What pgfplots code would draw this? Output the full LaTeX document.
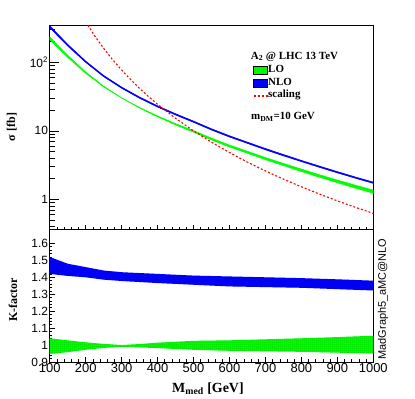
\documentclass[border=0pt]{standalone}
\usepackage{fontspec}
\setmainfont{Liberation Serif}
\setsansfont{Liberation Sans}
\usepackage{pgfplots}
\pgfplotsset{compat=1.18}
\usetikzlibrary{patterns.meta}

\definecolor{rgreen}{RGB}{0,255,0}
\definecolor{rblue}{RGB}{0,0,255}
\definecolor{rred}{RGB}{255,0,0}

\tikzdeclarepattern{
  name=rootgrid,
  type=uncolored,
  bottom left={(0bp,0bp)},
  top right={(2.2bp,2.2bp)},
  tile size={(2.2bp,2.2bp)},
  code={
    \draw[line width=0.35bp] (0bp,0.1bp) -- (2.2bp,0.1bp);
    \draw[line width=0.35bp] (0.1bp,0bp) -- (0.1bp,2.2bp);
  }
}

\pgfplotsset{
  rootaxis/.style={
    scale only axis,
    width=323.6bp,
    anchor=south west,
    xmin=100, xmax=1000,
    axis line style={line width=0.8bp},
    tick align=inside,
    xtick pos=bottom, ytick pos=left,
    xtick={100,200,...,1000},
    minor x tick num=4,
    tick style={line width=0.6bp, black},
    /pgf/number format/assume math mode=true,
    /pgf/number format/set thousands separator={},
    yticklabel style={font=\sffamily\fontsize{12}{12}\selectfont, inner sep=1.5bp},
    xticklabel style={font=\sffamily\fontsize{13}{13}\selectfont, inner sep=1.5bp},
    label style={font=\bfseries\fontsize{12}{12}\selectfont},
  }
}

\begin{document}
\begin{tikzpicture}
\path[use as bounding box] (0,0) rectangle (415bp,399bp);

% upper panel: cross sections
\begin{axis}[rootaxis,
  at={(49.7bp,170bp)}, height=204bp,
  ymode=log, ymin=0.37, ymax=350,
  ytick={1,10,100}, yticklabels={1,10,10\textsuperscript{2}},
  minor ytick={0.4,0.5,0.6,0.7,0.8,0.9,2,3,4,5,6,7,8,9,20,30,40,50,60,70,80,90,200,300},
  major tick length=9bp, minor tick length=5bp,
  xtick style={/pgfplots/major tick length=4bp, /pgfplots/minor tick length=2bp},
  xticklabels={},
  ylabel={σ [fb]},
  ylabel style={at={(axis description cs:-0.117,0.5)}, anchor=center},
  legend style={at={(rel axis cs:0.6286,0.809)}, anchor=north west,
    draw=none, fill=none, inner sep=0pt, outer sep=0pt,
    font=\bfseries\fontsize{11}{13}\selectfont, row sep=0pt,
    nodes={inner sep=0pt, text height=8.4bp, text depth=4.4bp},
    /tikz/every even column/.append style={column sep=3.5bp}},
  legend cell align=left,
]
% LO band
\addplot[forget plot, fill=rgreen, draw=rgreen, line width=0.5bp] coordinates {
  (100,234.2) (150,126.6) (200,72.4) (250,44.9) (300,30.4) (350,21.9) (400,16.5)
  (450,12.75) (500,10.08) (550,7.82) (600,6.20) (650,5.03) (700,4.08) (750,3.35)
  (800,2.77) (850,2.29) (900,1.916) (950,1.613) (1000,1.366)
  (1000,1.230) (950,1.461) (900,1.748) (850,2.105) (800,2.55) (750,3.11) (700,3.80)
  (650,4.71) (600,5.82) (550,7.37) (500,9.55) (450,12.21) (400,16.0) (350,21.5)
  (300,30.1) (250,43.8) (200,69.3) (150,118.0) (100,213.3)
};
% NLO band
\addplot[forget plot, fill=rblue, draw=rblue, line width=0.6bp] coordinates {
  (100,342.3) (150,182.6) (200,104.1) (250,64.2) (300,43.5) (350,31.1) (400,23.15)
  (450,17.75) (500,13.87) (550,10.71) (600,8.47) (650,6.83) (700,5.52) (750,4.51)
  (800,3.70) (850,3.06) (900,2.54) (950,2.12) (1000,1.785)
  (1000,1.715) (950,2.04) (900,2.44) (850,2.94) (800,3.56) (750,4.33) (700,5.30)
  (650,6.57) (600,8.13) (550,10.29) (500,13.33) (450,17.05) (400,22.25) (350,29.9)
  (300,41.9) (250,61.8) (200,99.9) (150,173.4) (100,319.7)
};
% scaling
\addplot[forget plot, rred, line width=1.1bp, dash pattern=on 2bp off 2bp] coordinates {
  (200,390.6) (225,243.8) (250,160.0) (275,109.3) (300,77.2) (325,56.0) (350,41.6)
  (375,31.6) (400,24.4) (450,15.24) (500,10.0) (550,6.83) (600,4.82) (650,3.50)
  (700,2.60) (750,1.975) (800,1.526) (850,1.197) (900,0.953) (950,0.767) (1000,0.625)
};

\addlegendimage{legend image code/.code={
  \draw[fill=rgreen, draw=black, line width=0.5bp,
    postaction={pattern=rootgrid, pattern color=rgreen!65!black}]
    (0bp,-3.8bp) rectangle (14bp,3.8bp);}}
\addlegendentry{LO}
\addlegendimage{legend image code/.code={
  \draw[fill=rblue, draw=black, line width=0.5bp,
    postaction={pattern=rootgrid, pattern color=rblue!55!black}]
    (0bp,-3.8bp) rectangle (14bp,3.8bp);}}
\addlegendentry{NLO}
\addlegendimage{legend image code/.code={
  \draw[rred, line width=1.1bp, dash pattern=on 2bp off 2bp] (0bp,0bp) -- (14bp,0bp);}}
\addlegendentry{scaling}

\node[anchor=west, inner sep=0pt, font=\bfseries\fontsize{11}{13}\selectfont]
  at (rel axis cs:0.621,0.845) {A\textsubscript{2} @ LHC 13 TeV};
\node[anchor=west, inner sep=0pt, font=\bfseries\fontsize{11}{13}\selectfont]
  at (rel axis cs:0.622,0.549) {m\textsubscript{DM}=10 GeV};
\end{axis}

% lower panel: K-factor
\begin{axis}[rootaxis,
  at={(49.7bp,37bp)}, height=133bp,
  clip=false,
  ymin=0.9, ymax=1.685,
  ytick={0.9,1,1.1,1.2,1.3,1.4,1.5,1.6},
  minor y tick num=4,
  major tick length=5bp, minor tick length=2.5bp,
  xlabel={M\textsubscript{med} [GeV]},
  xlabel style={at={(axis description cs:0.489,-0.2)}, anchor=center,
    font=\bfseries\fontsize{14}{14}\selectfont},
  ylabel={K-factor},
  ylabel style={at={(axis description cs:-0.1134,0.466)}, anchor=center},
]
\addplot[fill=rblue, draw=none,
  postaction={pattern=rootgrid, pattern color=rblue!55!black}] coordinates {
  (100,1.52) (125,1.50) (150,1.48) (200,1.46) (250,1.44) (300,1.43) (400,1.42)
  (500,1.41) (600,1.405) (700,1.40) (800,1.395) (900,1.388) (1000,1.38)
  (1000,1.322) (900,1.33) (800,1.338) (700,1.342) (600,1.346) (500,1.356)
  (400,1.366) (300,1.378) (250,1.386) (200,1.40) (150,1.408) (100,1.42)
};
\addplot[fill=rgreen, draw=none,
  postaction={pattern=rootgrid, pattern color=rgreen!65!black}] coordinates {
  (100,1.04) (150,1.028) (200,1.016) (250,1.007) (300,1.0) (350,1.006) (400,1.014)
  (500,1.025) (600,1.028) (700,1.034) (800,1.04) (900,1.047) (1000,1.055)
  (1000,0.95) (900,0.955) (800,0.96) (700,0.963) (600,0.966) (500,0.972)
  (400,0.982) (350,0.986) (300,0.99) (250,0.983) (200,0.972) (150,0.958) (100,0.947)
};
\node[rotate=90, anchor=north, inner sep=0pt, font=\sffamily\fontsize{11}{11}\selectfont]
  at (rel axis cs:1.014,0.474) {MadGraph5\_aMC@NLO};
\end{axis}
\end{tikzpicture}
\end{document}
